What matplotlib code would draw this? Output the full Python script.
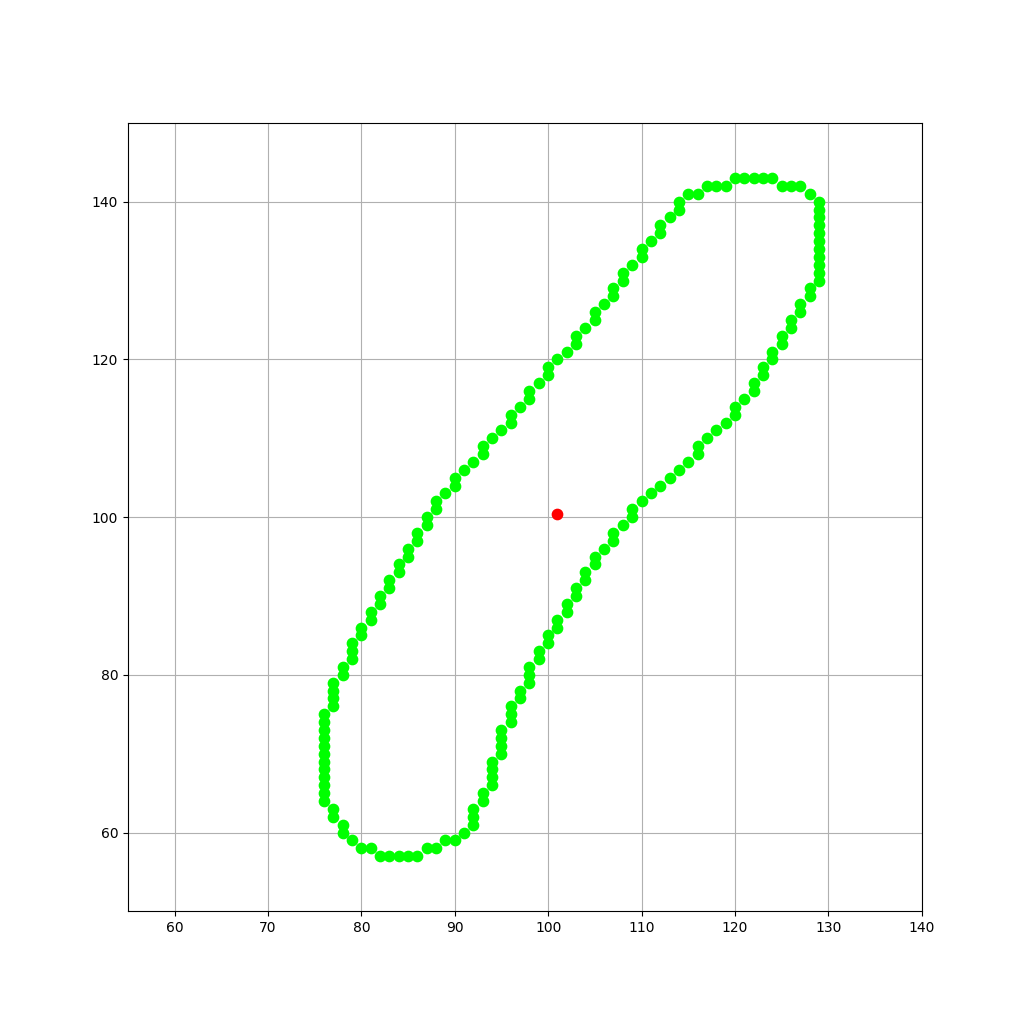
import matplotlib
matplotlib.use("Agg")
import matplotlib.pyplot as plt

# Contour points (x, y), traversed around the shape
left_x = [76]*12 + [77]*4 + [78]*2 + [79]*3 + [80]*2 + [81]*2 + [82]*2 + [83]*2 + [84]*2 + [85]*2 + [86]*2 + [87]*2 + [88]*2 + [89] + [90]*2 + [91] + [92] + [93]*2 + [94] + [95] + [96]*2 + [97] + [98]*2 + [99] + [100]*2 + [101] + [102] + [103]*2 + [104] + [105]*2 + [106] + [107]*2 + [108]*2 + [109] + [110]*2 + [111] + [112]*2 + [113] + [114]*2 + [115]
left_y = [64, 65, 66, 67, 68, 69, 70, 71, 72, 73, 74, 75,
          76, 77, 78, 79, 80, 81, 82, 83, 84, 85, 86, 87, 88, 89, 90, 91, 92, 93, 94, 95, 96, 97, 98, 99, 100,
          101, 102, 103, 104, 105, 106, 107, 108, 109, 110, 111, 112, 113, 114, 115, 116, 117, 118, 119, 120,
          121, 122, 123, 124, 125, 126, 127, 128, 129, 130, 131, 132, 133, 134, 135, 136, 137, 138, 139, 140, 141]

top_x = [116, 117, 118, 119, 120, 121, 122, 123, 124, 125, 126, 127, 128]
top_y = [141, 142, 142, 142, 143, 143, 143, 143, 143, 142, 142, 142, 141]

right_x = [129]*11 + [128]*2 + [127]*2 + [126]*2 + [125]*2 + [124]*2 + [123]*2 + [122]*2 + [121] + [120]*2 + [119] + [118] + [117] + [116]*2 + [115] + [114] + [113] + [112] + [111] + [110] + [109]*2 + [108] + [107]*2 + [106] + [105]*2 + [104]*2 + [103]*2 + [102]*2 + [101]*2 + [100]*2 + [99]*2 + [98]*3 + [97]*2 + [96]*3 + [95]*4 + [94]*4 + [93]*2 + [92]*3 + [91]
right_y = [140, 139, 138, 137, 136, 135, 134, 133, 132, 131, 130,
           129, 128, 127, 126, 125, 124, 123, 122, 121, 120, 119, 118, 117, 116, 115, 114, 113, 112, 111, 110,
           109, 108, 107, 106, 105, 104, 103, 102, 101, 100, 99, 98, 97, 96, 95, 94, 93, 92, 91, 90, 89, 88,
           87, 86, 85, 84, 83, 82, 81, 80, 79, 78, 77, 76, 75, 74, 73, 72, 71, 70, 69, 68, 67, 66, 65, 64,
           63, 62, 61, 60]

bottom_x = [90, 89, 88, 87, 86, 85, 84, 83, 82, 81, 80, 79, 78, 78, 77, 77]
bottom_y = [59, 59, 58, 58, 57, 57, 57, 57, 57, 58, 58, 59, 61, 60, 63, 62]

center_x = [100.96]
center_y = [100.35]

xs = left_x + top_x + right_x + bottom_x
ys = left_y + top_y + right_y + bottom_y

fig, ax = plt.subplots(figsize=(10.24, 10.24), dpi=100)
ax.scatter(xs, ys, s=55, color='#00ff00', zorder=3)
ax.scatter(center_x, center_y, s=55, color='red', zorder=4)
ax.set_xlim(55, 140)
ax.set_ylim(50, 150)
ax.grid(True)
ax.set_axisbelow(True)
fig.savefig("out.png", dpi=100)
